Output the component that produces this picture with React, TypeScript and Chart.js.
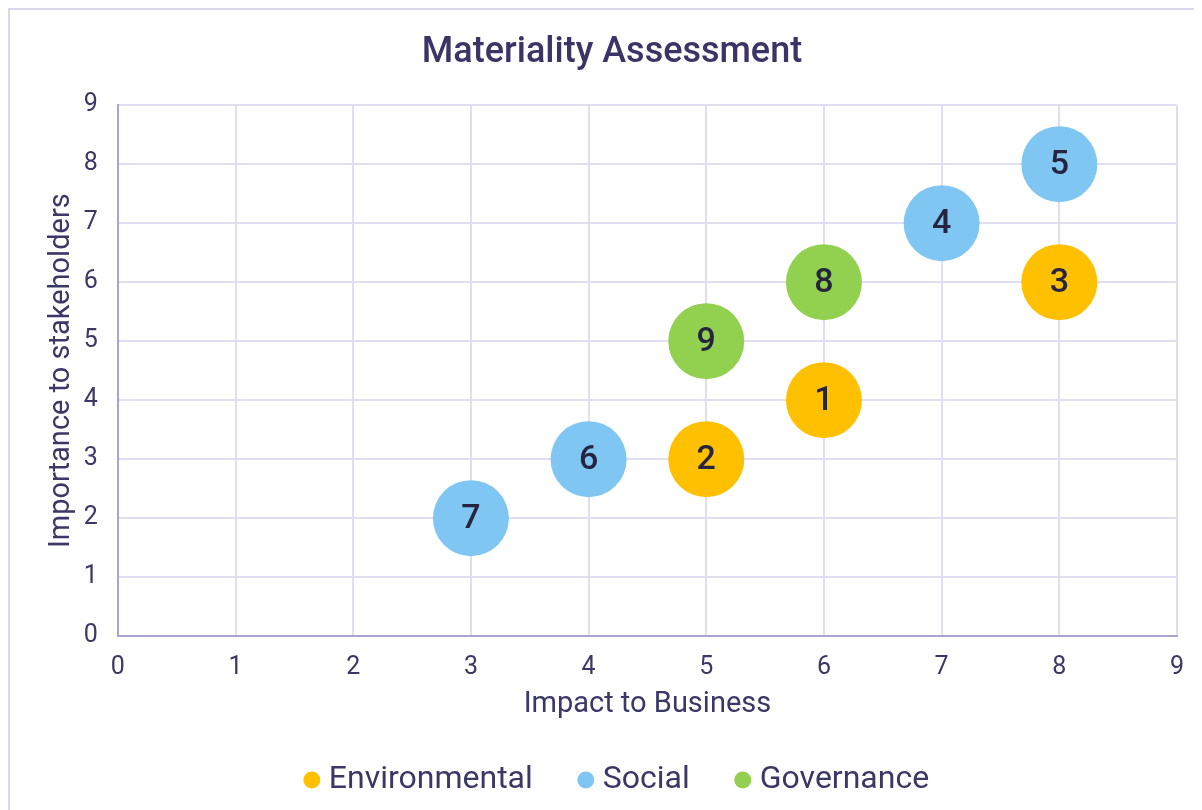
import React, { useEffect, useRef } from "react";
import { Chart, registerables } from "chart.js";

Chart.register(...registerables);

const chartTitle = "Materiality Assessment";
const xAxisTitle = "Impact to Business";
const yAxisTitle = "Importance to stakeholders";
const seriesNames = ["Environmental", "Social", "Governance"];

const environmentalX = [6, 5, 8];
const environmentalY = [4, 3, 6];
const environmentalIds = ["1", "2", "3"];

const socialX = [7, 8, 4, 3];
const socialY = [7, 8, 3, 2];
const socialIds = ["4", "5", "6", "7"];

const governanceX = [6, 5];
const governanceY = [6, 5];
const governanceIds = ["8", "9"];

const axisMin = 0;
const axisMax = 9;

const seriesColors = ["#FFC000", "#7FC6F3", "#92D050"];
const bubbleRadius = 38;
const textColor = "#3B3766";

const seriesX = [environmentalX, socialX, governanceX];
const seriesY = [environmentalY, socialY, governanceY];
const seriesIds = [environmentalIds, socialIds, governanceIds];

const bubbleLabelPlugin = {
  id: "bubbleLabels",
  afterDatasetsDraw(chart: any) {
    const ctx = chart.ctx;
    chart.data.datasets.forEach((ds: any, i: number) => {
      const meta = chart.getDatasetMeta(i);
      meta.data.forEach((el: any, j: number) => {
        ctx.save();
        ctx.font = "500 34px Roboto";
        ctx.fillStyle = "#27243F";
        ctx.textAlign = "center";
        ctx.textBaseline = "middle";
        ctx.fillText(seriesIds[i][j], el.x, el.y + 1);
        ctx.restore();
      });
    });
  },
};

const legendShiftPlugin = {
  id: "legendShift",
  afterLayout(chart: any) {
    const lg = chart.legend;
    if (lg) {
      lg.left += 8;
      lg.right += 8;
    }
  },
};

export default function App() {
  const ref = useRef<HTMLCanvasElement>(null);

  useEffect(() => {
    document.documentElement.style.overflow = "hidden";
    const canvas = ref.current;
    if (!canvas) return;
    Chart.defaults.font.family = "Roboto";
    const chart = new Chart(canvas, {
      type: "bubble",
      data: {
        datasets: seriesNames.map((name, i) => ({
          label: name,
          data: seriesX[i].map((x, j) => ({ x, y: seriesY[i][j], r: bubbleRadius })),
          backgroundColor: seriesColors[i],
          borderColor: seriesColors[i],
          borderWidth: 0,
          hoverRadius: 0,
        })),
      },
      options: {
        responsive: false,
        animation: false,
        devicePixelRatio: 1,
        layout: { padding: { left: 37, right: 41, top: 0, bottom: 4 } },
        plugins: {
          title: {
            display: true,
            text: chartTitle,
            color: "#3A3566",
            font: { size: 36, weight: "500" as any },
            padding: { top: 21, bottom: 31 },
          },
          legend: {
            position: "bottom",
            labels: {
              usePointStyle: true,
              pointStyle: "circle",
              boxWidth: 2,
              boxHeight: 12,
              padding: 52,
              color: textColor,
              font: { size: 32 },
            },
          },
          tooltip: { enabled: false },
        },
        scales: {
          x: {
            type: "linear",
            min: axisMin,
            max: axisMax,
            ticks: { stepSize: 1, color: textColor, font: { size: 25 }, padding: 17 },
            grid: { color: "#E0DEF0", lineWidth: 2, drawTicks: false },
            border: { color: "#A9A4D2", width: 2 },
            title: {
              display: true,
              text: xAxisTitle,
              color: textColor,
              font: { size: 29 },
              padding: { top: -13, bottom: -10 },
            },
          },
          y: {
            type: "linear",
            min: axisMin,
            max: axisMax,
            ticks: { stepSize: 1, color: textColor, font: { size: 25 }, padding: 20 },
            grid: { color: "#E0DEF0", lineWidth: 2, drawTicks: false },
            border: { color: "#A9A4D2", width: 2 },
            title: {
              display: true,
              text: yAxisTitle,
              color: textColor,
              font: { size: 29 },
              padding: { top: -3, bottom: -15 },
            },
          },
        },
      },
      plugins: [bubbleLabelPlugin, legendShiftPlugin],
    });
    return () => chart.destroy();
  }, []);

  return (
    <div
      style={{
        width: 1194,
        height: 800,
        overflow: "hidden",
        borderTop: "2px solid #DAD7EC",
        borderLeft: "2px solid #DAD7EC",
        background: "#fff",
      }}
    >
      <canvas ref={ref} width={1208} height={800} style={{ display: "block" }} />
    </div>
  );
}
